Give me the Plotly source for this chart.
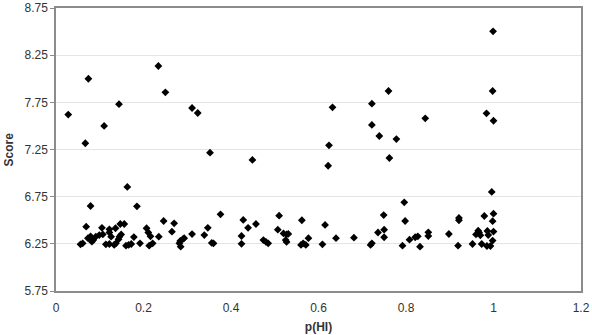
import plotly.graph_objects as go

p_hi = [
    0.028, 0.074, 0.067, 0.110, 0.144, 0.234, 0.250, 0.311, 0.324, 0.352, 0.449, 0.632, 0.624, 0.622,
    0.722, 0.722, 0.739, 0.999, 0.760, 0.998, 0.844, 0.984, 1.000, 0.778, 0.762,
    0.996, 0.163, 0.079, 0.185, 0.796,
    0.246, 0.069, 0.105, 0.122, 0.136, 0.147, 0.156, 0.207, 0.211, 0.216, 0.056, 0.061, 0.073, 0.079,
    0.085, 0.091, 0.099, 0.107, 0.082, 0.114, 0.122, 0.133, 0.137, 0.126, 0.122, 0.145, 0.149, 0.143,
    0.160, 0.166, 0.172, 0.178, 0.192, 0.213, 0.221, 0.235, 0.270, 0.265, 0.284, 0.290, 0.293, 0.282,
    0.285, 0.311, 0.339, 0.347, 0.356, 0.360, 0.376,
    0.428, 0.439, 0.457, 0.424, 0.424, 0.474, 0.480, 0.485, 0.510, 0.507, 0.520, 0.527, 0.531, 0.525,
    0.527, 0.562, 0.560, 0.565, 0.571, 0.577, 0.615, 0.609, 0.640, 0.681, 0.722, 0.719, 0.736, 0.750,
    0.750, 0.749,
    0.798, 0.792, 0.808, 0.821, 0.827, 0.832, 0.851, 0.851, 0.898, 0.919, 0.921, 0.921, 0.952, 0.973,
    0.979, 0.960, 0.965, 0.970, 0.967, 0.986, 0.988, 1.000, 0.998, 1.000, 0.998, 0.985, 0.993,
]
score = [
    7.62, 8.00, 7.316, 7.50, 7.73, 8.135, 7.856, 7.69, 7.637, 7.216, 7.139, 7.697, 7.294, 7.078,
    7.736, 7.51, 7.393, 8.503, 7.870, 7.87, 7.58, 7.634, 7.555, 7.361, 7.16,
    6.80, 6.853, 6.651, 6.648, 6.69,
    6.492, 6.432, 6.42, 6.404, 6.415, 6.46, 6.46, 6.415, 6.37, 6.33, 6.245, 6.255, 6.31, 6.33,
    6.29, 6.326, 6.343, 6.35, 6.273, 6.245, 6.248, 6.238, 6.255, 6.326, 6.37, 6.326, 6.35, 6.298,
    6.23, 6.238, 6.248, 6.322, 6.255, 6.23, 6.255, 6.326, 6.467, 6.379, 6.28, 6.30, 6.31, 6.255,
    6.22, 6.353, 6.343, 6.42, 6.26, 6.255, 6.563,
    6.503, 6.42, 6.46, 6.333, 6.25, 6.29, 6.27, 6.255, 6.548, 6.40, 6.36, 6.35, 6.355, 6.29,
    6.27, 6.50, 6.238, 6.255, 6.238, 6.31, 6.45, 6.245, 6.31, 6.315, 6.255, 6.238, 6.37, 6.40,
    6.32, 6.555,
    6.492, 6.23, 6.294, 6.32, 6.33, 6.22, 6.372, 6.333, 6.354, 6.23, 6.524, 6.50, 6.248, 6.248,
    6.545, 6.35, 6.39, 6.34, 6.37, 6.386, 6.343, 6.57, 6.49, 6.38, 6.285, 6.227, 6.227,
]

x_ticks = [0, 0.2, 0.4, 0.6, 0.8, 1.0, 1.2]
x_tick_labels = ["0", "0.2", "0.4", "0.6", "0.8", "1", "1.2"]
y_ticks = [5.75, 6.25, 6.75, 7.25, 7.75, 8.25, 8.75]
y_tick_labels = ["5.75", "6.25", "6.75", "7.25", "7.75", "8.25", "8.75"]

fig = go.Figure()
fig.add_trace(go.Scatter(
    x=p_hi, y=score, mode="markers",
    marker=dict(symbol="diamond", size=6, color="black", line=dict(width=0)),
    showlegend=False,
))

font = "Liberation Sans, Arial, sans-serif"
fig.update_layout(
    width=592, height=335,
    margin=dict(l=56, r=11, t=8, b=44, autoexpand=False),
    paper_bgcolor="white", plot_bgcolor="white",
    font=dict(family=font, size=12, color="#333333"),
    xaxis=dict(
        range=[0, 1.2], tickvals=x_ticks, ticktext=x_tick_labels,
        showgrid=False, zeroline=False, automargin=False,
        showline=True, linecolor="#8c8c8c", linewidth=1.5, mirror=True,
        ticks="", ticklabelstandoff=5,
        title=dict(text="<b>p(HI)</b>", font=dict(size=12, color="#333333"), standoff=8),
    ),
    yaxis=dict(
        range=[5.75, 8.75], tickvals=y_ticks, ticktext=y_tick_labels,
        showgrid=True, gridcolor="#e4e4e4", gridwidth=1, zeroline=False, automargin=False,
        showline=True, linecolor="#8c8c8c", linewidth=1.5, mirror=True,
        ticks="outside", ticklen=4, tickcolor="#8c8c8c",
    ),
    annotations=[dict(
        text="<b>Score</b>", xref="paper", yref="paper",
        x=(8 - 56) / 525, y=0.5, xanchor="center", yanchor="middle",
        textangle=-90, showarrow=False, font=dict(size=12, color="#333333"),
    )],
)

fig.write_html("out.html")
